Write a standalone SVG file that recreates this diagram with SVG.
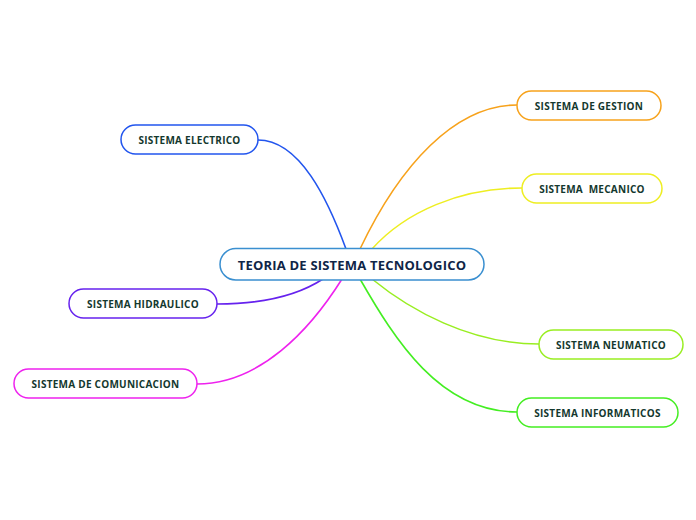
<svg xmlns="http://www.w3.org/2000/svg" width="696" height="520" viewBox="0 0 696 520">
<style>
.n rect{fill:#fff;stroke-width:1.5}
.n text{font-family:"Open Sans","Noto Sans",sans-serif;font-weight:bold;font-size:10px;letter-spacing:0.25px;fill:#14382e;text-anchor:middle;dominant-baseline:central}
#center text{font-size:13px;letter-spacing:0.2px;fill:#0f2547}
.c path{fill:none;stroke-width:1.6;stroke-linecap:round}
</style>
<rect width="696" height="520" fill="#fff"/>
<g class="c" id="connectors">
<path d="M258,140 C300,140 328,200 346,249" stroke="#2255ee"/>
<path d="M517,105 C455,105 400,165 360,249" stroke="#f7a21b"/>
<path d="M522,188 C460,188 405,212 372,249" stroke="#eeee22"/>
<path d="M217,304 C265,304 300,294 323,279" stroke="#6622ee"/>
<path d="M197,384 C260,384 310,330 342,279" stroke="#ee22ee"/>
<path d="M539,344 C470,344 410,310 372,279" stroke="#99ee22"/>
<path d="M517,412 C440,412 395,340 360,279" stroke="#44ee22"/>
</g>
<g class="n" id="center"><rect x="220" y="248.5" width="264" height="31.5" rx="15.75" stroke="#3a8fd0"/><text x="352" y="264.5">TEORIA DE SISTEMA TECNOLOGICO</text></g>
<g class="n" id="electrico"><rect x="121" y="125" width="137" height="29" rx="14.5" stroke="#2255ee"/><text x="189.5" y="140">SISTEMA ELECTRICO</text></g>
<g class="n" id="gestion"><rect x="517" y="91" width="144" height="29" rx="14.5" stroke="#f7a21b"/><text x="589" y="106">SISTEMA DE GESTION</text></g>
<g class="n" id="mecanico"><rect x="522" y="174" width="140" height="29" rx="14.5" stroke="#eeee22"/><text x="592" y="189" xml:space="preserve">SISTEMA  MECANICO</text></g>
<g class="n" id="hidraulico"><rect x="69" y="289" width="148" height="29" rx="14.5" stroke="#6622ee"/><text x="143" y="304">SISTEMA HIDRAULICO</text></g>
<g class="n" id="comunicacion"><rect x="14" y="369" width="183" height="29" rx="14.5" stroke="#ee22ee"/><text x="105.5" y="384">SISTEMA DE COMUNICACION</text></g>
<g class="n" id="neumatico"><rect x="539" y="330" width="144" height="29" rx="14.5" stroke="#99ee22"/><text x="611" y="345">SISTEMA NEUMATICO</text></g>
<g class="n" id="informaticos"><rect x="517" y="398" width="161" height="29" rx="14.5" stroke="#44ee22"/><text x="597.5" y="413">SISTEMA INFORMATICOS</text></g>
</svg>
